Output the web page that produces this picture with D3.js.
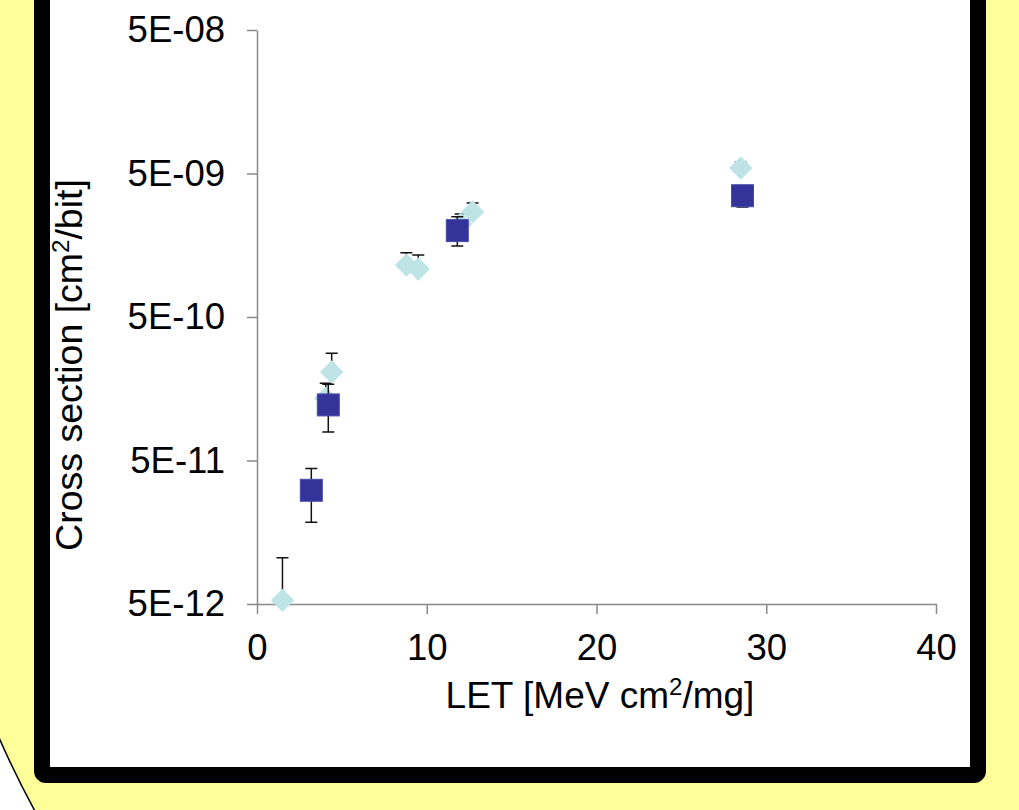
<!DOCTYPE html>
<html>
<head>
<meta charset="utf-8">
<script src="https://d3js.org/d3.v7.min.js"></script>
<style>
  body { margin: 0; background: #fff; }
  text { font-family: "Liberation Sans", Arial, sans-serif; fill: #000; }
</style>
</head>
<body>
<svg id="chart" width="1019" height="810"></svg>
<script>
// squares (dark series)
var sqLET = [3.2, 4.2, 11.8, 28.6];
var sqXS = [3.1e-11, 1.22e-10, 2.0e-9, 3.5e-9];
var sqLo = [1.86e-11, 7.9e-11, 1.56e-9, 2.92e-9];
var sqHi = [4.4e-11, 1.7e-10, 2.5e-9, 4.1e-9];

// diamonds (light series)
var dmLET = [1.5, 4.05, 4.4, 8.8, 9.5, 12.0, 12.7, 28.5];
var dmXS = [5.3e-12, 1.36e-10, 2.07e-10, 1.15e-9, 1.08e-9, 2.22e-9, 2.7e-9, 5.46e-9];
var dmHi = [1.05e-11, 1.73e-10, 2.8e-10, 1.40e-9, 1.35e-9, 2.61e-9, 3.11e-9, 6.0e-9];

var xTicks = [0, 10, 20, 30, 40];
var yTicks = [5e-12, 5e-11, 5e-10, 5e-9, 5e-8];
var yLabels = ["5E-12", "5E-11", "5E-10", "5E-09", "5E-08"];

var svg = d3.select("#chart");

// slide background: yellow ellipse on white
svg.append("ellipse")
  .attr("cx", 600).attr("cy", 300)
  .attr("rx", 690).attr("ry", 890)
  .attr("fill", "#ffff99")
  .attr("stroke", "#000")
  .attr("stroke-width", 1.5);

// white panel with thick black frame
svg.append("rect")
  .attr("x", 42).attr("y", -100)
  .attr("width", 936).attr("height", 875)
  .attr("rx", 4)
  .attr("fill", "#fff")
  .attr("stroke", "#000")
  .attr("stroke-width", 16);

var x = d3.scaleLinear().domain([0, 40]).range([257, 936]);
var y = d3.scaleLog().domain([5e-12, 5e-8]).range([604, 30]);

var axisCol = "#8a8a8a";

var gx = svg.append("g")
  .attr("transform", "translate(0,604)")
  .call(d3.axisBottom(x).tickValues(xTicks).tickSize(10).tickSizeOuter(0).tickPadding(20));
var gy = svg.append("g")
  .attr("transform", "translate(257,0)")
  .call(d3.axisLeft(y).tickValues(yTicks).tickSize(10).tickSizeOuter(0).tickPadding(22)
    .tickFormat(function(d, i) { return yLabels[i]; }));

[gx, gy].forEach(function(g) {
  g.select(".domain").attr("stroke", axisCol).attr("stroke-width", 1.5);
  g.selectAll(".tick line").attr("stroke", axisCol).attr("stroke-width", 1.5);
  g.selectAll(".tick text")
    .attr("fill", "#000")
    .style("font-size", "36.5px")
    .style("font-family", "'Liberation Sans', Arial, sans-serif");
});

// axis titles
var xt = svg.append("text")
  .attr("x", 600).attr("y", 708)
  .attr("text-anchor", "middle")
  .style("font-size", "37px");
xt.append("tspan").text("LET [MeV  cm");
xt.append("tspan").attr("dy", -13).style("font-size", "24px").text("2");
xt.append("tspan").attr("dy", 13).text("/mg]");

var yt = svg.append("text")
  .attr("transform", "translate(82,365) rotate(-90)")
  .attr("text-anchor", "middle")
  .style("font-size", "37.5px");
yt.append("tspan").text("Cross section [cm");
yt.append("tspan").attr("dy", -13).style("font-size", "24px").text("2");
yt.append("tspan").attr("dy", 13).text("/bit]");

var cap = 6;
var plot = svg.append("g");

var dm = dmLET.map(function(v, i) { return {x: v, y: dmXS[i], hi: dmHi[i]}; });
var sq = sqLET.map(function(v, i) { return {x: v, y: sqXS[i], lo: sqLo[i], hi: sqHi[i]}; });

// diamond error bars (upper half only, lower half hidden)
plot.selectAll(".dmErr").data(dm).enter().append("path")
  .attr("d", function(d) {
    var px = x(d.x), py = y(d.y), ph = y(d.hi);
    return "M" + px + "," + py + "V" + ph + "M" + (px - cap) + "," + ph + "H" + (px + cap);
  })
  .attr("stroke", "#111").attr("stroke-width", 1.5).attr("fill", "none");

plot.selectAll(".dm").data(dm).enter().append("path")
  .attr("d", d3.symbol().type(d3.symbolSquare).size(16.5 * 16.5))
  .attr("transform", function(d) { return "translate(" + x(d.x) + "," + y(d.y) + ") rotate(45)"; })
  .attr("fill", "#bee4e6");

plot.selectAll(".sqErr").data(sq).enter().append("path")
  .attr("d", function(d) {
    var px = x(d.x), pl = y(d.lo), ph = y(d.hi);
    return "M" + px + "," + pl + "V" + ph +
      "M" + (px - cap) + "," + pl + "H" + (px + cap) +
      "M" + (px - cap) + "," + ph + "H" + (px + cap);
  })
  .attr("stroke", "#111").attr("stroke-width", 1.5).attr("fill", "none");

plot.selectAll(".sq").data(sq).enter().append("rect")
  .attr("x", function(d) { return x(d.x) - 11; })
  .attr("y", function(d) { return y(d.y) - 11; })
  .attr("width", 22).attr("height", 22)
  .attr("fill", "#333399")
  .attr("stroke", "#4a4ab0").attr("stroke-width", 1);
</script>
</body>
</html>
